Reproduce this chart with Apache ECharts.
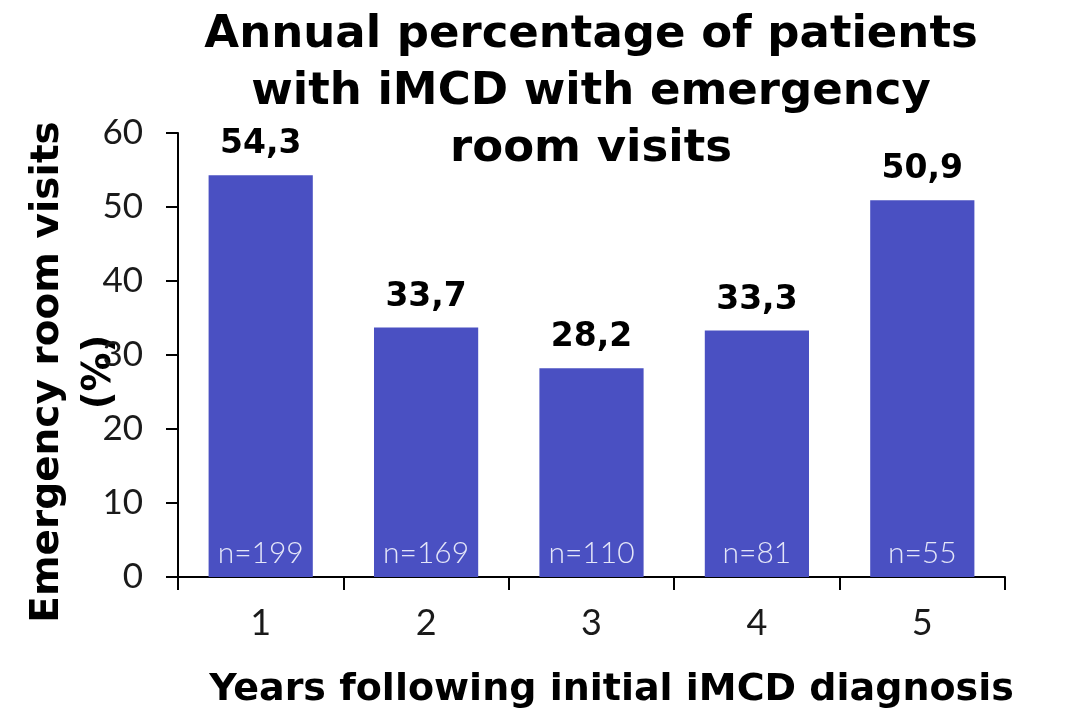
<!DOCTYPE html>
<html>
<head>
<meta charset="utf-8">
<script src="https://cdn.jsdelivr.net/npm/echarts@6/dist/echarts.min.js"></script>
<style>
  html, body { margin: 0; padding: 0; background: #ffffff; }
  #chart { width: 1066px; height: 715px; }
</style>
</head>
<body>
<div id="chart"></div>
<script>
// Years after diagnosis and share of patients with an ER visit in that year
const years = ['1', '2', '3', '4', '5'];
const erVisitPct = [54.3, 33.7, 28.2, 33.3, 50.9];
const patientCounts = [199, 169, 110, 81, 55];
const yTicks = [0, 10, 20, 30, 40, 50, 60];

const FONT = '"DejaVu Sans", sans-serif';
const LIGHT = 'Lato, "Open Sans", sans-serif';
const BAR = '#4a50c2';

const fmtComma = v => v.toFixed(1).replace('.', ',');

const chart = echarts.init(document.getElementById('chart'), null, { renderer: 'canvas' });

chart.setOption({
  backgroundColor: '#ffffff',
  animation: false,
  title: {
    text: 'Annual percentage of patients\nwith iMCD with emergency\nroom visits',
    left: 586,
    top: 2,
    textAlign: 'center',
    textStyle: {
      fontFamily: FONT,
      fontWeight: 'bold',
      fontSize: 45,
      lineHeight: 57,
      color: '#000000'
    }
  },
  grid: { left: 178, right: 61, top: 133, bottom: 138, containLabel: false, outerBoundsMode: 'none' },
  xAxis: {
    type: 'category',
    data: years,
    name: 'Years following initial iMCD diagnosis',
    nameLocation: 'middle',
    nameGap: 94,
    nameMoveOverlap: false,
    nameTextStyle: {
      fontFamily: FONT, fontWeight: 'bold', fontSize: 38, color: '#000000',
      padding: [0, 0, 0, 40]
    },
    axisLine: { lineStyle: { color: '#000000', width: 2 } },
    axisTick: { show: true, inside: false, length: 13, lineStyle: { color: '#000000', width: 2 } },
    axisLabel: { fontFamily: LIGHT, fontWeight: 'normal', fontSize: 36, color: '#1a1a1a', margin: 28 }
  },
  yAxis: {
    type: 'value',
    min: yTicks[0],
    max: yTicks[yTicks.length - 1],
    interval: 10,
    name: 'Emergency room visits\n(%)',
    nameLocation: 'middle',
    nameRotate: 90,
    nameGap: 52,
    nameMoveOverlap: false,
    nameTextStyle: {
      fontFamily: FONT, fontWeight: 'bold', fontSize: 39, lineHeight: 52, color: '#000000',
      padding: [0, 34, 0, 0]
    },
    axisLine: { show: true, lineStyle: { color: '#000000', width: 2 } },
    axisTick: { show: true, inside: false, length: 12, lineStyle: { color: '#000000', width: 2 } },
    splitLine: { show: false },
    axisLabel: { fontFamily: LIGHT, fontWeight: 'normal', fontSize: 35, color: '#1a1a1a', margin: 35 }
  },
  series: [
    {
      name: 'ER visits',
      type: 'bar',
      data: erVisitPct,
      barWidth: '63%',
      itemStyle: { color: BAR },
      label: {
        show: true,
        position: 'top',
        distance: 14,
        formatter: p => fmtComma(p.value),
        fontFamily: FONT,
        fontWeight: 'bold',
        fontSize: 33,
        color: '#000000'
      }
    },
    {
      // sample size written near the foot of each bar
      name: 'n',
      type: 'bar',
      data: erVisitPct,
      barWidth: '63%',
      barGap: '-100%',
      silent: true,
      itemStyle: { color: 'rgba(0,0,0,0)' },
      label: {
        show: true,
        position: 'insideBottom',
        distance: 9,
        formatter: p => 'n=' + patientCounts[p.dataIndex],
        fontFamily: LIGHT,
        fontWeight: 300,
        fontSize: 30,
        color: '#e4e6f8'
      }
    }
  ]
});
</script>
</body>
</html>
